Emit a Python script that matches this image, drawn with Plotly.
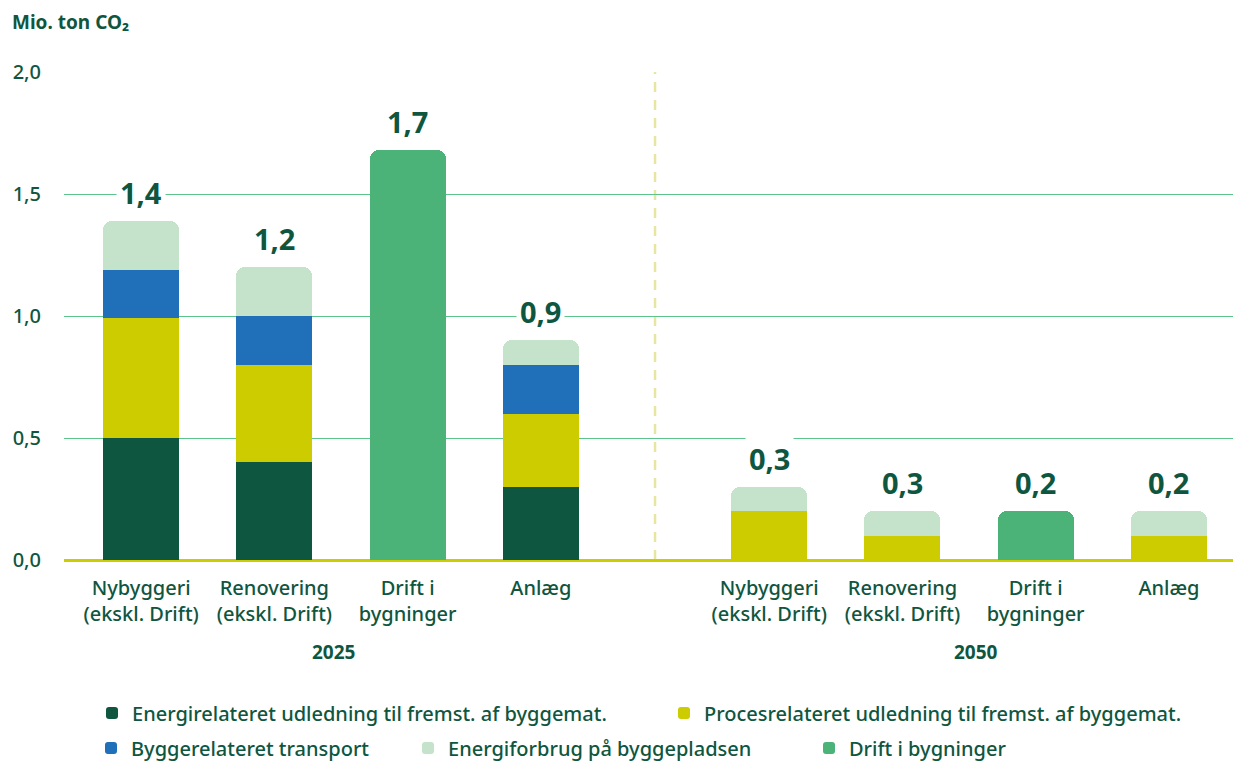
import plotly.graph_objects as go

# ---------------- data ----------------
categories = ["Nybyggeri<br>(ekskl. Drift)", "Renovering<br>(ekskl. Drift)", "Drift i<br>bygninger", "Anlæg"]
years = ["2025", "2050"]

energi_2025 = [0.5, 0.4, None, 0.3]
proces_2025 = [0.49, 0.4, None, 0.3]
transport_2025 = [0.2, 0.2, None, 0.2]
byggeplads_2025 = [0.2, 0.2, None, 0.1]
drift_2025 = [None, None, 1.68, None]

energi_2050 = [None, None, None, None]
proces_2050 = [0.2, 0.1, None, 0.1]
transport_2050 = [None, None, None, None]
byggeplads_2050 = [0.1, 0.1, None, 0.1]
drift_2050 = [None, None, 0.2, None]

total_labels_2025 = ["1,4", "1,2", "1,7", "0,9"]
total_labels_2050 = ["0,3", "0,3", "0,2", "0,2"]

series_names = [
    "Energirelateret udledning til fremst. af byggemat.",
    "Procesrelateret udledning til fremst. af byggemat.",
    "Byggerelateret transport",
    "Energiforbrug på byggepladsen",
    "Drift i bygninger",
]
y_ticks = [0, 0.5, 1.0, 1.5, 2.0]
y_tick_text = ["0,0", "0,5", "1,0", "1,5", "2,0"]

# ---------------- styling ----------------
DARK = "#0F5640"
colors = ["#0F5640", "#CCCC00", "#1F70B8", "#C5E2CA", "#4BB377"]
FONT = "Noto Sans"
GROUP_GAP = 1.714

n = len(categories)
x_pos = [i for i in range(n)] + [i + (n - 1) + GROUP_GAP for i in range(n)]

series_vals = [
    energi_2025 + energi_2050,
    proces_2025 + proces_2050,
    transport_2025 + transport_2050,
    byggeplads_2025 + byggeplads_2050,
    drift_2025 + drift_2050,
]

fig = go.Figure()
for k, (name, vals) in enumerate(zip(series_names, series_vals)):
    fig.add_trace(go.Bar(
        x=x_pos, y=vals, name=name,
        marker=dict(color=colors[k], line=dict(width=0)),
        width=0.57,
        legend="legend" if k == 0 else f"legend{k+1}",
        hoverinfo="skip",
    ))

# totals
totals = []
for j in range(len(x_pos)):
    totals.append(sum(v[j] for v in series_vals if v[j] is not None))
labels = total_labels_2025 + total_labels_2050
for xp, t, lab in zip(x_pos, totals, labels):
    fig.add_annotation(x=xp, y=t, text=f"<b>{lab}</b>", showarrow=False,
                       yanchor="bottom", yshift=5, bgcolor="white",
                       borderpad=3,
                       font=dict(family=FONT, size=29, color=DARK))


def py(pix):
    return (560 - pix) / 488


def px(pix):
    return (pix - 64) / 1169


# group labels
for g, yr in enumerate(years):
    xs = x_pos[g * n:(g + 1) * n]
    fig.add_annotation(x=sum(xs) / len(xs), y=py(652), yref="paper", yanchor="middle",
                       xshift=-7 if g == 0 else 7,
                       text=f"<b>{yr}</b>", showarrow=False,
                       font=dict(family=FONT, size=19, color=DARK))

# y title
fig.add_annotation(x=px(10), y=py(22), xref="paper", yref="paper", xanchor="left", yanchor="middle",
                   text="<b>Mio. ton CO₂</b>", showarrow=False,
                   font=dict(family=FONT, size=19, color=DARK))

# divider
mid = (x_pos[n - 1] + x_pos[n]) / 2
fig.add_shape(type="line", x0=mid, x1=mid, y0=0, y1=2.0, xref="x", yref="y",
              line=dict(color="#E6E6A0", width=2.5, dash="10px,8px"), layer="below")

# legends
legend_pos = [(92, 713), (664, 713), (91, 748), (408, 748), (809, 748)]
leg_common = dict(orientation="h", xanchor="left", yanchor="middle", bgcolor="rgba(0,0,0,0)",
                  font=dict(family=FONT, size=20, color=DARK, weight=500), itemclick=False)
legend_layout = {}
for k, (lx, ly) in enumerate(legend_pos):
    key = "legend" if k == 0 else f"legend{k+1}"
    legend_layout[key] = dict(x=px(lx), y=py(ly), **leg_common)

fig.update_layout(
    width=1233, height=761,
    margin=dict(l=64, r=0, t=72, b=201, autoexpand=False),
    paper_bgcolor="white", plot_bgcolor="white",
    barmode="stack", barcornerradius=9, bargap=0,
    font=dict(family=FONT, color=DARK),
    showlegend=True,
    xaxis=dict(
        range=[-0.579, x_pos[-1] + 0.481],
        tickvals=x_pos, ticktext=categories * 2,
        tickfont=dict(family=FONT, size=20, color=DARK, weight=500),
        showgrid=False, showline=False, zeroline=False, ticks="",
        ticklabelstandoff=14, fixedrange=True,
    ),
    yaxis=dict(
        range=[0, 2.0], tickvals=y_ticks, ticktext=y_tick_text,
        tickfont=dict(family=FONT, size=20, color=DARK, weight=500),
        showgrid=True, gridcolor="#5CC48A", gridwidth=1,
        zeroline=True, zerolinecolor="#CCCC00", zerolinewidth=3,
        ticks="", ticklabelstandoff=22, fixedrange=True,
    ),
    **legend_layout,
)

fig.write_html(
    "out.html",
    config={"displayModeBar": False},
    post_script="document.body.style.margin='0';document.body.style.overflow='hidden';",
)
